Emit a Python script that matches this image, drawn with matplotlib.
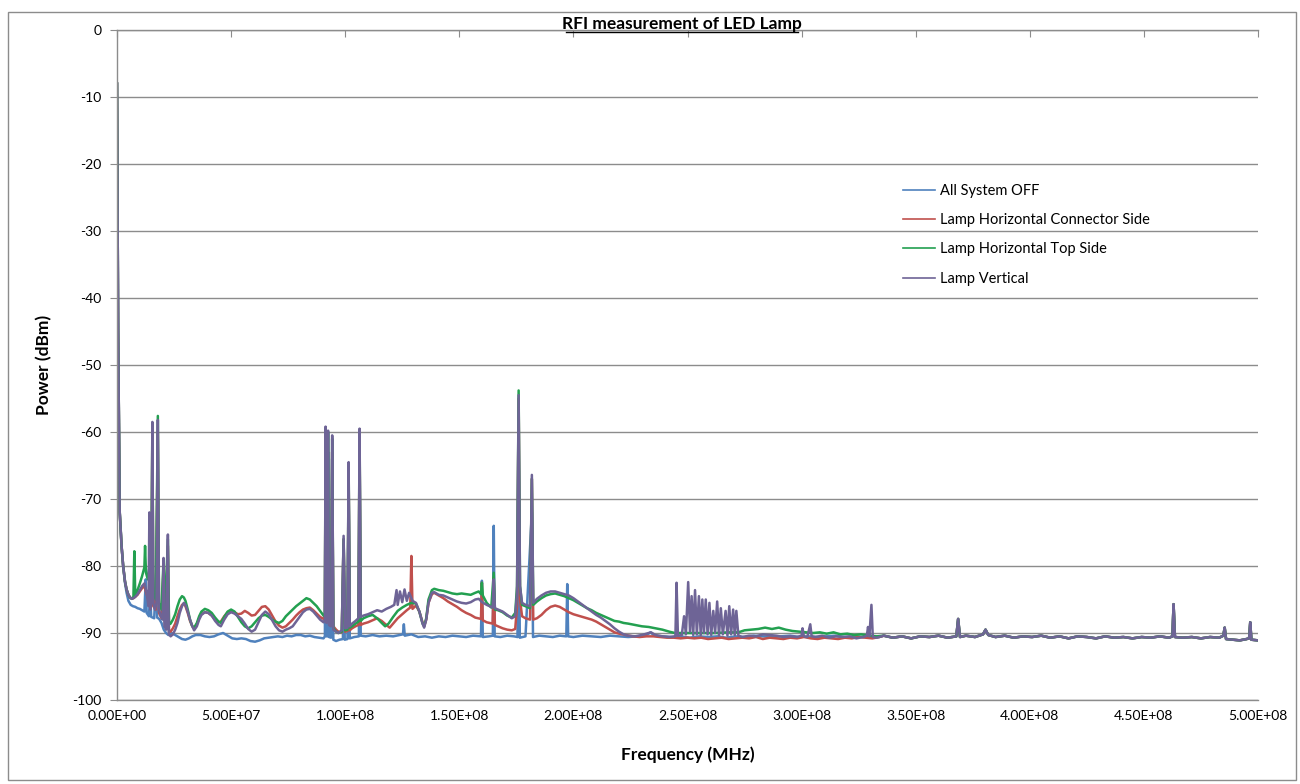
import numpy as np
import matplotlib.pyplot as plt
from matplotlib.patches import Rectangle
from matplotlib.lines import Line2D
from matplotlib.ticker import FuncFormatter, MultipleLocator

plt.rcParams['font.family'] = ['Lato', 'DejaVu Sans']

## spectra: (frequency MHz, power dBm)
labels = ['All System OFF', 'Lamp Horizontal Connector Side',
          'Lamp Horizontal Top Side', 'Lamp Vertical']
colors = ['#4F81BD', '#C0504D', '#23A050', '#6E6496']

# above ~335 MHz all four traces sit on top of each other
tail_pts = [(336, -90.4), (340, -90.7), (344, -90.5), (348, -90.8), (352, -90.5), (356, -90.6),
            (360, -90.4), (364, -90.7), (367.8, -90.5), (368.6, -87.9), (369.4, -90.6), (372, -90.4),
            (376, -90.6), (379.5, -90.2), (380.6, -89.5), (381.8, -90.3), (385, -90.6), (389, -90.4),
            (393, -90.7), (397, -90.5), (401, -90.6), (405, -90.4), (409, -90.7), (413, -90.5),
            (417, -90.8), (421, -90.5), (425, -90.6), (429, -90.8), (433, -90.5), (437, -90.7),
            (441, -90.6), (445, -90.8), (449, -90.6), (453, -90.7), (457, -90.5), (461, -90.7),
            (462.5, -90.5), (463, -85.7), (463.6, -90.6), (467, -90.7), (471, -90.6), (475, -90.8),
            (479, -90.6), (483, -90.7), (484.8, -90.4), (485.4, -89.2), (486, -90.9), (489, -91.0),
            (492, -91.1), (495, -90.9), (496.1, -90.8), (496.6, -88.4), (497.1, -91.0), (500, -91.1)]

off_pts = [(0, -8), (0.5, -45), (1.2, -72), (2, -77), (2.7, -80), (3.5, -82.5), (4.2, -84), (5, -85.2),
           (6, -85.8), (7, -86), (8, -86.1), (9, -86.3), (10, -86.4), (11, -86.6), (12, -86.8),
           (12.6, -82), (13, -87), (14, -87.5), (14.5, -84), (15, -87.6), (16.3, -87.8), (17.2, -81),
           (17.6, -87.7), (18.5, -87.9), (19.5, -88.5), (20.5, -89.5), (21.5, -90), (22.5, -90.3),
           (24, -90), (25.5, -90.3), (27, -90.6), (28.5, -90.9), (30, -91), (31.5, -90.8), (33, -90.5),
           (34.5, -90.3), (36.5, -90.3), (38.5, -90.5), (40.5, -90.6), (42.5, -90.5), (44.5, -90.2),
           (46.5, -90), (48.5, -90.4), (50.5, -90.8), (52.5, -90.9), (54.5, -90.8), (56.5, -90.9),
           (58.5, -91.2), (60.5, -91.3), (62.5, -91.1), (64.5, -90.8), (66.5, -90.7), (68.5, -90.6),
           (70.5, -90.5), (72.5, -90.6), (74.5, -90.4), (76.5, -90.5), (78.5, -90.3), (80.5, -90.3),
           (82.5, -90.5), (84.5, -90.4), (86.5, -90.6), (88.5, -90.7), (90.5, -90.8), (91.1, -90.5),
           (91.4, -62), (91.8, -90.5), (92.2, -90.5), (92.5, -63), (92.9, -90.6), (93.8, -90.7),
           (94.3, -64), (94.8, -91), (96, -91.2), (97.5, -91), (99, -90.9), (99.3, -80), (99.8, -91),
           (101, -90.9), (101.5, -68), (102, -90.8), (104, -90.6), (106, -90.5), (106.3, -62),
           (106.8, -90.4), (109, -90.5), (112, -90.3), (115, -90.5), (118, -90.4), (121, -90.5),
           (124, -90.3), (125.3, -90.2), (125.7, -88.7), (126.1, -90.4), (129, -90.2), (132, -90.6),
           (135, -90.5), (138, -90.7), (141, -90.5), (144, -90.6), (147, -90.4), (150, -90.5),
           (153, -90.6), (156, -90.4), (159.5, -90.5), (159.9, -82.2), (160.3, -90.6), (163, -90.5),
           (164.7, -90.4), (165.1, -74), (165.5, -90.5), (168, -90.6), (171, -90.4), (174, -90.5),
           (175.5, -90.6), (176, -60), (176.5, -90.7), (179, -90.5), (181.8, -72), (182.3, -90.6),
           (185, -90.4), (188, -90.5), (191, -90.6), (194, -90.4), (196.9, -90.5), (197.3, -82.7),
           (197.7, -90.5), (200, -90.6), (204, -90.4), (208, -90.5), (212, -90.6), (216, -90.4),
           (220, -90.5), (224, -90.6), (228, -90.5), (232, -90.3), (233.8, -89.9), (235.5, -90.4),
           (239, -90.5), (243, -90.6), (247, -90.5), (251, -90.7), (255, -90.5), (259, -90.6),
           (263, -90.5), (267, -90.7), (271, -90.5), (275, -90.6), (279, -90.4), (283, -90.5),
           (287, -90.6), (291, -90.5), (295, -90.4), (299, -90.6), (303, -90.5), (307, -90.6),
           (311, -90.5), (315, -90.4), (319, -90.6), (323, -90.5), (327, -90.6), (331, -90.5),
           (334, -90.6)]

conn_pts = [(0, -8), (0.5, -45), (1.2, -72), (2, -77), (2.7, -80), (3.5, -82.3), (4.2, -83.5),
            (5, -84.3), (5.7, -84.7), (6.5, -84.9), (7.2, -84.8), (8, -84.6), (9, -84.3), (10, -83.8),
            (11, -83.3), (12, -83), (13, -84.2), (14, -85.5), (15, -85.8), (15.5, -60), (15.9, -86),
            (17, -86.5), (17.9, -60), (18.4, -87), (19.5, -87.8), (20.4, -80), (21, -88.8),
            (22.3, -77), (22.8, -89.8), (23.5, -89.8), (24.5, -89.3), (25.5, -88.6), (26.5, -87.5),
            (27.5, -86.5), (28.5, -85.8), (29.3, -85.6), (30, -86), (31, -87), (32, -88.2), (33, -89),
            (33.8, -89.3), (35, -88.7), (36, -87.8), (37, -87.2), (38.5, -86.9), (40, -87),
            (41.5, -87.4), (43, -88), (44.5, -88.4), (45.5, -88.3), (47, -87.5), (48.5, -86.9),
            (50, -86.7), (51.5, -86.9), (53, -87.2), (54.5, -87.1), (56, -86.7), (57.5, -87),
            (59, -87.4), (60.5, -87.3), (62, -86.7), (63.5, -86.1), (65, -86), (66.5, -86.5),
            (68, -87.4), (69.5, -88.3), (71, -88.9), (72.5, -89.2), (74, -89), (75.5, -88.5),
            (77, -88), (78.5, -87.4), (80, -86.9), (81.5, -86.5), (83, -86.3), (84.5, -86.2),
            (86, -86.6), (87.5, -87.1), (89, -87.6), (90.5, -87.9), (91.1, -87.6), (91.4, -62),
            (91.8, -87), (92.2, -87), (92.5, -78), (92.9, -87.5), (93.8, -88), (94.3, -63),
            (94.8, -89), (96, -89.5), (97, -89.8), (98.5, -89.9), (99.3, -76), (100, -89.8),
            (101, -89.7), (101.5, -66), (102, -89.6), (103, -89.3), (104.5, -89), (105.8, -88.8),
            (106.3, -61), (106.8, -88.8), (108, -88.6), (110, -88.4), (112, -88.1), (114, -87.8),
            (116, -88.2), (118, -88.8), (119.5, -89.2), (121, -88.6), (123, -87.8), (125, -87.2),
            (127, -86.6), (128.5, -86.2), (129, -78.5), (129.5, -86.4), (131, -85.9), (132.5, -86.8),
            (133.9, -88.4), (134.6, -89), (135.5, -88), (136.5, -85.5), (138, -84.2), (139, -84),
            (141, -84.4), (143, -84.8), (145, -85.3), (147, -85.7), (149, -86.1), (151, -86.6),
            (153, -87), (155, -87.3), (157, -87.7), (159.5, -87.9), (159.9, -82.5), (160.3, -88.1),
            (162, -88.4), (164.6, -88.6), (165.1, -81.7), (165.6, -88.8), (167, -89), (169, -89.3),
            (171, -89.5), (173, -89.6), (174.5, -89.4), (175.3, -86), (176, -55), (176.6, -85),
            (177.5, -87.5), (179, -87.8), (181, -88), (181.8, -67), (182.4, -88), (184, -87.8),
            (186, -87.3), (188, -86.6), (190, -86.1), (192, -85.9), (194, -86.1), (196, -86.5),
            (198, -86.9), (200, -87.2), (202, -87.4), (204, -87.6), (206, -87.8), (208, -88),
            (210, -88.3), (212, -88.7), (214, -89.1), (216, -89.5), (218, -89.9), (220, -90.1),
            (223, -90.3), (226, -90.5), (229, -90.6), (232, -90.5), (235, -90.5), (238, -90.6),
            (241, -90.7), (244, -90.7), (247, -90.8), (250, -90.7), (253, -90.8), (256, -90.7),
            (259, -90.9), (262, -90.8), (265, -90.7), (268, -90.9), (271, -90.8), (274, -90.7),
            (277, -90.8), (280, -90.6), (283, -90.9), (286, -90.7), (289, -90.8), (292, -90.9),
            (295, -90.7), (298, -90.8), (301, -90.6), (304, -90.8), (307, -90.9), (310, -90.7),
            (313, -90.8), (316, -90.9), (319, -90.7), (322, -90.8), (325, -90.6), (328, -90.7),
            (331, -90.8), (334, -90.6)]

top_pts = [(0, -8), (0.5, -45), (1.2, -72), (2, -77), (2.7, -80), (3.5, -82.3), (4.2, -83.5),
           (5, -84.3), (5.7, -84.7), (6.5, -84.9), (7.2, -84.6), (7.6, -77.8), (8, -84.4), (9, -83.6),
           (10, -82.6), (11, -81.5), (12, -80.2), (12.3, -77), (12.7, -81), (13.5, -82), (14.2, -80),
           (15, -83), (15.5, -58.8), (15.9, -84), (17, -85), (17.9, -57.6), (18.4, -85.5),
           (19.5, -86.5), (20.4, -79), (21, -87.5), (22.3, -76), (22.8, -88.7), (23.5, -88.6),
           (24.5, -88), (25.5, -87.2), (26.5, -86), (27.5, -85), (28.5, -84.5), (29.3, -84.7),
           (30, -85.2), (31, -86.5), (32, -88), (33, -89), (33.8, -89.2), (35, -88.5), (36, -87.5),
           (37, -86.8), (38.5, -86.4), (40, -86.6), (41.5, -87), (43, -87.7), (44.5, -88.3),
           (45.5, -88.5), (47, -87.6), (48.5, -86.8), (50, -86.5), (51.5, -86.8), (53, -87.6),
           (54.5, -88.4), (56, -89), (57.5, -89.3), (59, -89), (60.5, -88.4), (62, -87.8),
           (63.5, -87.4), (65, -87.3), (66.5, -87.6), (68, -88), (69.5, -88.3), (71, -88.5),
           (72.5, -88.2), (74, -87.5), (75.5, -87), (77, -86.5), (78.5, -86), (80, -85.6),
           (81.5, -85.2), (83, -84.8), (84.5, -85), (86, -85.5), (87.5, -86), (89, -86.7),
           (90.5, -87.4), (91.1, -87.5), (91.4, -59.5), (91.8, -88), (92.2, -88), (92.5, -60),
           (92.9, -88.5), (93.8, -88.8), (94.3, -61), (94.8, -89.3), (96, -89.8), (97, -90),
           (98.5, -89.8), (99.3, -76), (100, -89.6), (101, -89.5), (101.5, -65), (102, -89.2),
           (103, -89), (104.5, -88.6), (105.8, -88.3), (106.3, -60), (106.8, -88.2), (108, -87.8),
           (110, -87.5), (112, -87.3), (114, -87.8), (116, -88.5), (117.5, -89), (119, -88.6),
           (121, -87.6), (123, -86.7), (125, -86.2), (127, -85.8), (129, -85.5), (131, -85.6),
           (132.5, -86.8), (133.9, -88.6), (134.6, -89), (135.5, -87.8), (136.5, -85), (138, -83.6),
           (139, -83.4), (141, -83.6), (143, -83.7), (145, -83.9), (147, -84.1), (149, -84.2),
           (151, -84.1), (153, -84.2), (155, -84.3), (157, -84), (158.5, -83.8), (159.5, -84.2),
           (159.9, -82.5), (160.3, -84.4), (162, -85.5), (164, -86.2), (165.1, -81), (165.6, -86.5),
           (167, -86.6), (169, -86.9), (171, -87.4), (173, -87.7), (174.5, -87), (175.3, -83),
           (176, -53.8), (176.6, -83), (177.5, -85.8), (179, -86), (181, -86.3), (181.8, -67),
           (182.4, -85.8), (184, -85.3), (186, -84.8), (188, -84.4), (190, -84.2), (192, -84.1),
           (194, -84.3), (196, -84.5), (198, -84.8), (200, -85.1), (202, -85.5), (204, -85.9),
           (206, -86.3), (208, -86.6), (210, -87), (212, -87.3), (214, -87.6), (216, -87.9),
           (218, -88.2), (220, -88.3), (222, -88.5), (224, -88.6), (227, -88.8), (230, -89),
           (233, -89.1), (236, -89.3), (239, -89.5), (242, -89.8), (244.5, -90), (250, -90),
           (256, -90), (262, -90), (268, -89.9), (272.3, -89.9), (275, -89.6), (278, -89.5),
           (281, -89.4), (284, -89.2), (287, -89.4), (290, -89.2), (293, -89.5), (296, -89.7),
           (299, -89.8), (302, -89.9), (305, -90), (308, -89.9), (311, -90.1), (314, -89.9),
           (317, -90.2), (320, -90.1), (323, -90.3), (326, -90.2), (330, -90.4), (333, -90.5)]

vert_pts = [(0, -8), (0.5, -45), (1.2, -72), (2, -77), (2.7, -80), (3.5, -82.3), (4.2, -83.5),
            (5, -84.3), (5.7, -84.7), (6.5, -84.9), (7.2, -84.8), (8, -84.6), (9, -84.2), (10, -83.6),
            (11, -83), (12, -82.6), (13, -84), (13.8, -86), (14.2, -72), (14.6, -86.5), (15.1, -85),
            (15.5, -58.5), (15.9, -85.5), (16.6, -86.5), (17.3, -85.5), (17.9, -58.2), (18.4, -86.5),
            (19.2, -87.5), (20, -88), (20.4, -78.8), (20.8, -89), (21.6, -89.5), (22.3, -75.3),
            (22.7, -90.2), (23.5, -90.5), (24.5, -90.2), (25.5, -89.5), (26.5, -88.5), (27.5, -87),
            (28.5, -86), (29.3, -85.5), (30, -85.8), (31, -86.8), (32, -88), (33, -89), (33.8, -89.6),
            (35, -89), (36, -88), (37, -87.3), (38.5, -86.9), (40, -87), (41.5, -87.4), (43, -88.2),
            (44.5, -88.8), (45.5, -89), (47, -88), (48.5, -87.2), (50, -86.9), (51.5, -87.1),
            (53, -87.5), (54.5, -87.9), (56, -88.6), (57.5, -89.4), (59, -89.8), (60.5, -89.5),
            (62, -88.4), (63.5, -87.3), (65, -86.8), (66.5, -87.2), (68, -88.1), (69.5, -89),
            (71, -89.6), (72.5, -89.8), (74, -89.5), (75.5, -89.3), (77, -89), (78.5, -88.3),
            (80, -87.6), (81.5, -86.9), (83, -86.5), (84.5, -86.4), (86, -86.8), (87.5, -87.4),
            (89, -88), (90.5, -88.4), (91.1, -88), (91.4, -59.2), (91.8, -88.5), (92.2, -88),
            (92.5, -59.8), (92.9, -88.8), (93.8, -89), (94.3, -60.5), (94.8, -89.5), (96, -89.8),
            (97, -90), (98.5, -89.6), (99.3, -75.5), (100, -89.3), (101, -89.2), (101.5, -64.5),
            (102, -89), (103, -88.6), (104.5, -88.2), (105.8, -87.8), (106.3, -59.5), (106.8, -87.6),
            (108, -87.4), (110, -87.2), (112, -86.9), (114, -86.6), (116, -86.8), (118, -86.4),
            (120, -86.1), (121.5, -85.8), (122.5, -83.6), (123, -85.8), (124, -83.8), (125, -85.4),
            (126, -83.5), (127, -85.2), (128, -84), (129.5, -85.2), (131, -85.5), (132.5, -86.8),
            (133.9, -88.6), (134.6, -89.2), (135.5, -88), (136.5, -85.5), (138, -84), (139, -83.9),
            (141, -84.3), (143, -84.4), (145, -84.7), (147, -85), (149, -85.3), (151, -85.5),
            (153, -85.6), (155, -85.4), (157, -85), (158.5, -84.9), (160, -85.4), (162, -85.8),
            (164.6, -86.2), (165.1, -82), (165.6, -86.3), (167, -86.5), (169, -86.8), (171, -87.3),
            (173, -87.8), (174.5, -87.5), (175.3, -84), (176, -54.5), (176.6, -83), (177.5, -85.5),
            (179, -85.8), (181, -86), (181.8, -66.4), (182.4, -85.5), (184, -84.9), (186, -84.4),
            (188, -84), (190, -83.8), (192, -83.8), (194, -84), (196, -84.2), (198, -84.4),
            (200, -84.8), (202, -85.3), (204, -85.8), (206, -86.3), (208, -86.8), (210, -87.3),
            (212, -87.7), (214, -88.2), (216, -88.7), (218, -89.3), (220, -89.8), (222, -90.2),
            (224, -90.4), (227, -90.5), (230, -90.3), (233, -90), (234, -89.9), (236, -90.3),
            (239, -90.5), (242, -90.6), (244.7, -90.5), (245.2, -82.5), (245.8, -90.4),
            (247.5, -90.3), (248.5, -87.5), (249.3, -90.2), (250.3, -82.4), (251.1, -89.8),
            (251.8, -84.5), (252.5, -90.3), (253.3, -83.6), (254.1, -90.2), (255, -84.5),
            (255.8, -90.3), (256.5, -85), (257.2, -90), (258, -85), (258.8, -90.2), (259.6, -85.5),
            (260.4, -90.3), (261.3, -86.7), (262.1, -90), (263, -85.3), (263.8, -90.4), (264.6, -86.3),
            (265.5, -90.2), (266.7, -86.7), (267.5, -90.4), (268.3, -86), (269.1, -90.2), (270, -86.5),
            (270.7, -90.3), (271.4, -86.7), (272.3, -90.4), (274, -90.6), (277, -90.4), (280, -90.5),
            (283, -90.2), (286, -90.3), (289, -90.4), (292, -90.6), (295, -90.5), (298, -90.6),
            (300, -90.4), (300.4, -89.3), (301, -90.5), (302.5, -90.6), (303.8, -88.7), (304.4, -90.5),
            (306, -90.6), (309, -90.4), (312, -90.7), (315, -90.5), (318, -90.6), (321, -90.5),
            (324, -90.8), (327, -90.6), (328.6, -90.4), (329.1, -89.1), (329.7, -90.5), (330.6, -85.8),
            (331.2, -90.6), (333, -90.7)]

series = [off_pts, conn_pts, top_pts, vert_pts]

fig = plt.figure(figsize=(13, 7.84), dpi=100)
ax = fig.add_axes([117/1300, 1-700/784, 1141/1300, 670/784])

for pts, lab, col in zip(series, labels, colors):
    arr = np.array(pts + tail_pts)
    ax.plot(arr[:, 0]*1e6, arr[:, 1], color=col, lw=1.8, label=lab)

ax.set_xlim(0, 5e8)
ax.set_ylim(-100, 0)
ax.xaxis.set_major_locator(MultipleLocator(5e7))
ax.yaxis.set_major_locator(MultipleLocator(10))
ax.xaxis.set_major_formatter(FuncFormatter(lambda v, p: '%.2E' % v))
ax.yaxis.set_major_formatter(FuncFormatter(lambda v, p: '%d' % v))

ax.grid(axis='y', color='#8c8c8c', lw=1)
ax.set_axisbelow(True)
ax.spines['right'].set_visible(False)
for s in ['left', 'top', 'bottom']:
    ax.spines[s].set_color('#8c8c8c')
    ax.spines[s].set_linewidth(1)

# x axis crosses at 0 dBm (top): ticks there, labels stay at the bottom
ax.tick_params(axis='x', top=True, bottom=False, labeltop=False, labelbottom=True,
               direction='in', length=5, color='#8c8c8c', labelsize=10, pad=7)
ax.tick_params(axis='y', direction='out', length=5, color='#8c8c8c', labelsize=10, pad=6)

ax.set_ylabel('Power (dBm)', fontsize=12.5, fontweight='bold')
ax.yaxis.set_label_coords(-0.057, 0.5)
ax.set_xlabel('Frequency (MHz)', fontsize=12.5, fontweight='bold')
ax.xaxis.set_label_coords(0.5, -0.07)

fig.text(682/1300, 1-29/784, 'RFI measurement of LED Lamp', ha='center', va='baseline',
         fontsize=12.5, fontweight='bold')
fig.add_artist(Line2D([566/1300, 798/1300], [1-32/784, 1-32/784], color='black', lw=1))

leg = ax.legend(loc='upper left', bbox_to_anchor=(0.677, 0.79), frameon=False, fontsize=10.5,
                handlelength=2.2, labelspacing=1.05, handletextpad=0.35)
for line in leg.get_lines():
    line.set_linewidth(1.2)

fig.add_artist(Rectangle((8/1300, 4/784), 1288/1300, 768/784, fill=False,
                         edgecolor='#8c8c8c', lw=1))

fig.savefig('out.png', dpi=100)
